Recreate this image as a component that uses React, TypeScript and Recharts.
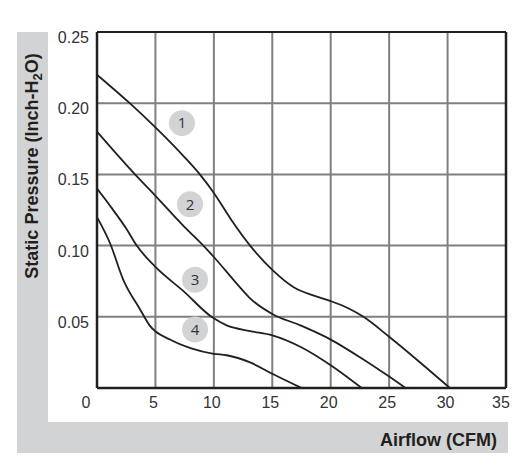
import React from "react";
import {
  LineChart,
  Line,
  XAxis,
  YAxis,
  CartesianGrid,
  ReferenceLine,
  ReferenceDot,
} from "recharts";

// Airflow (CFM) vs static pressure (Inch-H2O) for four fan curves
const curve1 = [
  { x: 0, y: 0.22 }, { x: 2.8, y: 0.2 }, { x: 5, y: 0.183 }, { x: 7.5, y: 0.162 },
  { x: 8.8, y: 0.15 }, { x: 10, y: 0.137 }, { x: 11.5, y: 0.118 }, { x: 13.1, y: 0.1 },
  { x: 15, y: 0.083 }, { x: 16.8, y: 0.071 }, { x: 18.5, y: 0.065 }, { x: 20, y: 0.061 },
  { x: 21.5, y: 0.056 }, { x: 22.8, y: 0.05 }, { x: 25, y: 0.036 }, { x: 27.5, y: 0.019 },
  { x: 30.2, y: 0 },
];
const curve2 = [
  { x: 0, y: 0.18 }, { x: 3.25, y: 0.15 }, { x: 5, y: 0.135 }, { x: 7.5, y: 0.113 },
  { x: 9.1, y: 0.1 }, { x: 10, y: 0.092 }, { x: 12.2, y: 0.071 }, { x: 13.1, y: 0.063 },
  { x: 15, y: 0.052 }, { x: 17.4, y: 0.044 }, { x: 20, y: 0.034 }, { x: 22.8, y: 0.02 },
  { x: 25, y: 0.008 }, { x: 26.4, y: 0 },
];
const curve3 = [
  { x: 0, y: 0.14 }, { x: 1.2, y: 0.127 }, { x: 2.5, y: 0.112 }, { x: 3.4, y: 0.1 },
  { x: 5, y: 0.085 }, { x: 7.4, y: 0.068 }, { x: 9.8, y: 0.05 }, { x: 11.1, y: 0.044 },
  { x: 13.1, y: 0.04 }, { x: 15, y: 0.037 }, { x: 17.4, y: 0.029 }, { x: 20, y: 0.016 },
  { x: 22.65, y: 0 },
];
const curve4 = [
  { x: 0, y: 0.12 }, { x: 1.1, y: 0.102 }, { x: 2.25, y: 0.076 }, { x: 3.7, y: 0.055 },
  { x: 4.5, y: 0.044 }, { x: 6.25, y: 0.034 }, { x: 8, y: 0.028 }, { x: 10, y: 0.024 },
  { x: 11.1, y: 0.023 }, { x: 13.1, y: 0.018 }, { x: 15, y: 0.01 }, { x: 17.5, y: 0 },
];
const curves = [curve1, curve2, curve3, curve4];

const curveLabels = ["1", "2", "3", "4"];
const labelX = [7.27, 7.96, 8.39, 8.39];
const labelY = [0.186, 0.129, 0.076, 0.041];

const xTicks = [0, 5, 10, 15, 20, 25, 30, 35];
const yTicks = [0.05, 0.1, 0.15, 0.2, 0.25];

const DARK = "#231f20";
const BAND = "#d1d3d4";
const TICK_FONT = "'Liberation Sans', Arial, sans-serif";
const TITLE_FONT = "'Liberation Sans', Arial, sans-serif";

const XTick = (props: any) => {
  const { x, y, payload } = props;
  const dx = payload.value === 0 ? -11 : payload.value === 35 ? -5 : -2;
  return (
    <text
      x={x + dx}
      y={y + 14}
      textAnchor="middle"
      dominantBaseline="central"
      fontSize={16}
      fontFamily={TICK_FONT}
      fill="#333"
    >
      {payload.value}
    </text>
  );
};

const YTick = (props: any) => {
  const { x, y, payload } = props;
  return (
    <text
      x={x}
      y={y + 5.5}
      textAnchor="end"
      dominantBaseline="central"
      fontSize={16}
      fontFamily={TICK_FONT}
      fill="#333"
    >
      {payload.value.toFixed(2)}
    </text>
  );
};

export default function App() {
  return (
    <div style={{ position: "relative", width: 510, height: 448 }}>
      <style>{`html,body{overflow:hidden !important} .recharts-surface,.recharts-wrapper{overflow:visible !important}`}</style>
      <svg
        width={510}
        height={448}
        style={{ position: "absolute", left: 0, top: 0 }}
      >
        <rect x={9} y={24} width={31} height={421} fill={BAND} />
        <rect x={9} y={414} width={491} height={31} fill={BAND} />
        <text
          transform="translate(24,158) rotate(-90)"
          textAnchor="middle"
          dominantBaseline="central"
          fontSize={18}
          fontWeight="bold"
          fontFamily={TITLE_FONT}
          fill={DARK}
        >
          Static Pressure (Inch-H
          <tspan fontSize={13} dy={5}>2</tspan>
          <tspan dy={-5}>O)</tspan>
        </text>
        <text
          x={489}
          y={432}
          textAnchor="end"
          dominantBaseline="central"
          fontSize={18}
          fontWeight="bold"
          fontFamily={TITLE_FONT}
          fill={DARK}
        >
          Airflow (CFM)
        </text>
      </svg>
      <div style={{ position: "absolute", left: 0, top: 0 }}>
        <LineChart
          width={520}
          height={448}
          margin={{ top: 24, right: 22, bottom: 28, left: 0 }}
        >
          <CartesianGrid stroke="#808080" strokeWidth={2} />
          <XAxis
            type="number"
            dataKey="x"
            domain={[0, 35]}
            ticks={xTicks}
            tick={<XTick />}
            tickLine={false}
            tickSize={0}
            tickMargin={0}
            axisLine={{ stroke: DARK, strokeWidth: 2.5 }}
            height={40}
            allowDataOverflow
          />
          <YAxis
            type="number"
            dataKey="y"
            domain={[0, 0.25]}
            ticks={yTicks}
            tick={<YTick />}
            tickLine={false}
            tickSize={0}
            tickMargin={8}
            axisLine={{ stroke: DARK, strokeWidth: 2.5 }}
            width={89}
            allowDataOverflow
          />
          <ReferenceLine y={0.25} stroke={DARK} strokeWidth={2} />
          <ReferenceLine x={35} stroke={DARK} strokeWidth={2.5} />
          {curves.map((c, i) => (
            <Line
              key={i}
              data={c}
              dataKey="y"
              type="monotone"
              stroke={DARK}
              strokeWidth={1.8}
              dot={false}
              activeDot={false}
              isAnimationActive={false}
            />
          ))}
          {curveLabels.map((lab, i) => (
            <ReferenceDot
              key={lab}
              x={labelX[i]}
              y={labelY[i]}
              r={13}
              fill={BAND}
              stroke="none"
              label={{
                value: lab,
                position: "center",
                fill: "#333",
                fontSize: 15,
                fontFamily: "'Open Sans', sans-serif",
              }}
            />
          ))}
        </LineChart>
      </div>
    </div>
  );
}
